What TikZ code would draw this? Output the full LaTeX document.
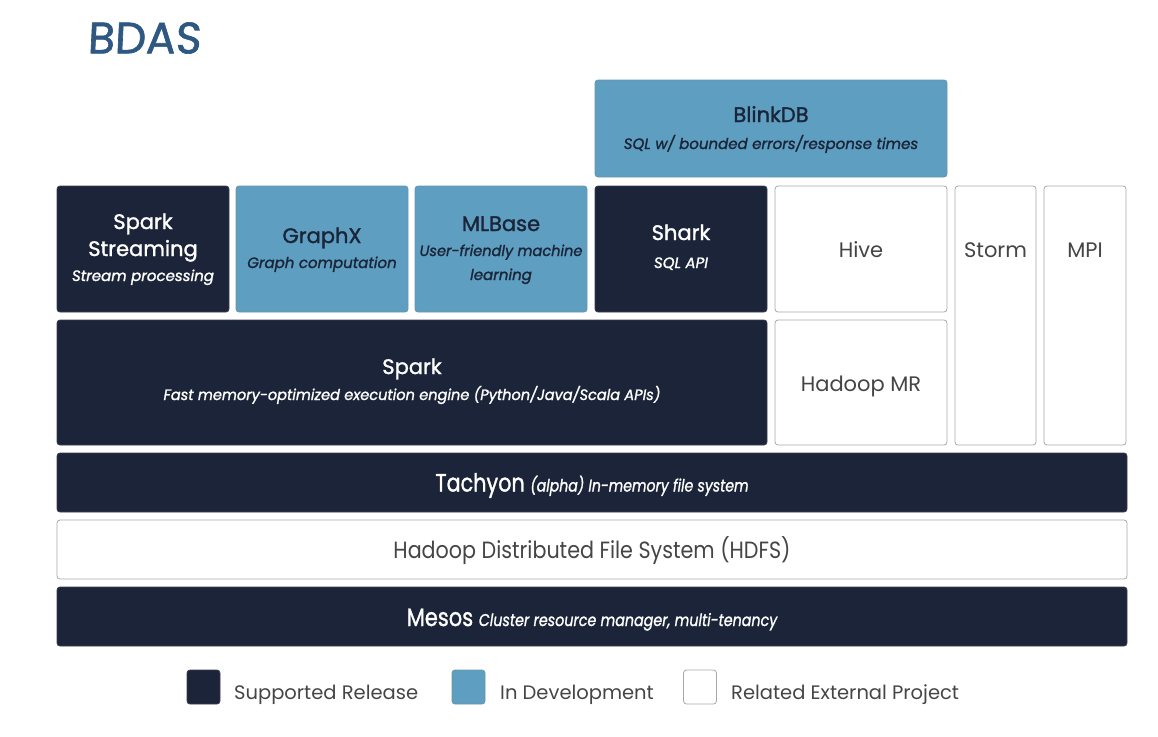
\documentclass[tikz,border=0pt]{standalone}
\usepackage{fontspec}
\setmainfont{Poppins}
\newfontfamily\bdMed{Poppins}[FakeBold=1.4]
\definecolor{navy}{HTML}{1B2438}
\definecolor{devblue}{HTML}{5E9FC1}
\definecolor{edgegrey}{HTML}{A8A8A8}
\definecolor{textgrey}{HTML}{454545}
\definecolor{inkblue}{HTML}{2E5882}
\begin{document}
\begin{tikzpicture}[x=1pt,y=1pt,
  blk/.style={rounded corners=3pt, inner sep=0pt, line width=0.8pt},
  darkbox/.style={blk, fill=navy, draw=navy!70!gray},
  bluebox/.style={blk, fill=devblue, draw=devblue!70!gray},
  whitebox/.style={blk, fill=white, draw=edgegrey},
  ttl/.style={anchor=base, inner sep=0pt, font=\bdMed\fontsize{21}{24}\selectfont},
  sub/.style={anchor=base, inner sep=0pt, font=\bdMed\itshape\fontsize{15}{18}\selectfont},
  wttl/.style={anchor=base, inner sep=0pt, text=textgrey, font=\fontsize{21}{24}\selectfont},
  onDark/.style={text=white},
  onBlue/.style={text=navy},
  legendsq/.style={rounded corners=3pt, minimum width=33pt, minimum height=34pt, inner sep=0pt, line width=0.8pt},
  legendtxt/.style={anchor=base west, text=textgrey, font=\fontsize{19.5}{22}\selectfont, inner sep=0pt}]
\useasboundingbox (0,0) rectangle (1158,-736);
% title
\node[text=inkblue, font=\bdMed\fontsize{44}{50}\selectfont, inner sep=0pt, xslant=0.05] (title) at (145,-38) {BDAS};
% boxes
\node[bluebox, minimum width=352pt, minimum height=97pt] (blink) at (771,-128.5) {};
\node[darkbox, minimum width=172pt, minimum height=126pt] (sstream) at (143,-249) {};
\node[bluebox, minimum width=172pt, minimum height=126pt] (graphx) at (322,-249) {};
\node[bluebox, minimum width=172pt, minimum height=126pt] (mlbase) at (501,-249) {};
\node[darkbox, minimum width=172pt, minimum height=126pt] (shark) at (681,-249) {};
\node[whitebox, minimum width=172pt, minimum height=126pt] (hive) at (861,-249) {};
\node[whitebox, minimum width=81pt, minimum height=259pt] (storm) at (995.5,-315.5) {};
\node[whitebox, minimum width=82pt, minimum height=259pt] (mpi) at (1085,-315.5) {};
\node[darkbox, minimum width=710pt, minimum height=125pt] (spark) at (412,-382.5) {};
\node[whitebox, minimum width=172pt, minimum height=125pt] (hmr) at (861,-382.5) {};
\node[darkbox, minimum width=1070pt, minimum height=59pt] (tachyon) at (592,-482.5) {};
\node[whitebox, minimum width=1070pt, minimum height=59pt] (hdfs) at (592,-549.5) {};
\node[darkbox, minimum width=1070pt, minimum height=59pt] (mesos) at (592,-616.5) {};
% texts
\node[ttl, onBlue] (blinkT) at (blink.center |- 0,-122) {BlinkDB};
\node[sub, onBlue] (blinkS) at (blink.center |- 0,-149) {SQL w/ bounded errors/response times};
\node[ttl, onDark] (ssT1) at (sstream.center |- 0,-229) {Spark};
\node[ttl, onDark] (ssT2) at (sstream.center |- 0,-256) {Streaming};
\node[sub, onDark] (ssS) at (sstream.center |- 0,-281) {Stream processing};
\node[ttl, onBlue] (gxT) at (graphx.center |- 0,-243) {GraphX};
\node[sub, onBlue] (gxS) at (graphx.center |- 0,-268) {Graph computation};
\node[ttl, onBlue] (mlT) at (mlbase.center |- 0,-231) {MLBase};
\node[sub, onBlue] (mlS1) at (mlbase.center |- 0,-256) {\scalebox{0.97}[1]{User-friendly machine}};
\node[sub, onBlue] (mlS2) at (mlbase.center |- 0,-280) {learning};
\node[ttl, onDark] (shT) at (shark.center |- 0,-240) {Shark};
\node[sub, onDark] (shS) at (shark.center |- 0,-268) {SQL API};
\node[wttl] (hiveT) at (hive.center |- 0,-257) {Hive};
\node[wttl] (stormT) at (storm.center |- 0,-257) {Storm};
\node[wttl] (mpiT) at (mpi.center |- 0,-257) {MPI};
\node[ttl, onDark] (spT) at (spark.center |- 0,-374) {Spark};
\node[sub, onDark] (spS) at (spark.center |- 0,-400) {\scalebox{0.97}[1]{Fast memory-optimized execution engine (Python/Java/Scala APIs)}};
\node[wttl] (hmrT) at (hmr.center |- 0,-391) {Hadoop MR};
\node[anchor=base, inner sep=0pt, text=white] (tachT) at (tachyon.center |- 0,-491.5)
  {\scalebox{0.83}[1]{\bdMed\fontsize{25}{28}\selectfont Tachyon {\itshape\fontsize{17}{20}\selectfont (alpha) In-memory file system}}};
\node[anchor=base, inner sep=0pt, text=textgrey] (hdfsT) at (hdfs.center |- 0,-558)
  {\scalebox{0.88}[1]{\fontsize{23.5}{26}\selectfont Hadoop Distributed File System (HDFS)}};
\node[anchor=base, inner sep=0pt, text=white] (mesT) at (mesos.center |- 0,-626)
  {\scalebox{0.84}[1]{\bdMed\fontsize{25}{28}\selectfont Mesos {\itshape\fontsize{17}{20}\selectfont Cluster resource manager, multi-tenancy}}};
% legend
\node[legendsq, fill=navy, draw=navy!70!gray] (lg1) at (203.5,-687) {};
\node[legendtxt] (lt1) at (234,-699) {Supported Release};
\node[legendsq, fill=devblue, draw=devblue!70!gray] (lg2) at (468.5,-687) {};
\node[legendtxt] (lt2) at (500,-699) {In Development};
\node[legendsq, fill=white, draw=edgegrey] (lg3) at (700,-687) {};
\node[legendtxt] (lt3) at (731,-699) {Related External Project};
\end{tikzpicture}
\end{document}
